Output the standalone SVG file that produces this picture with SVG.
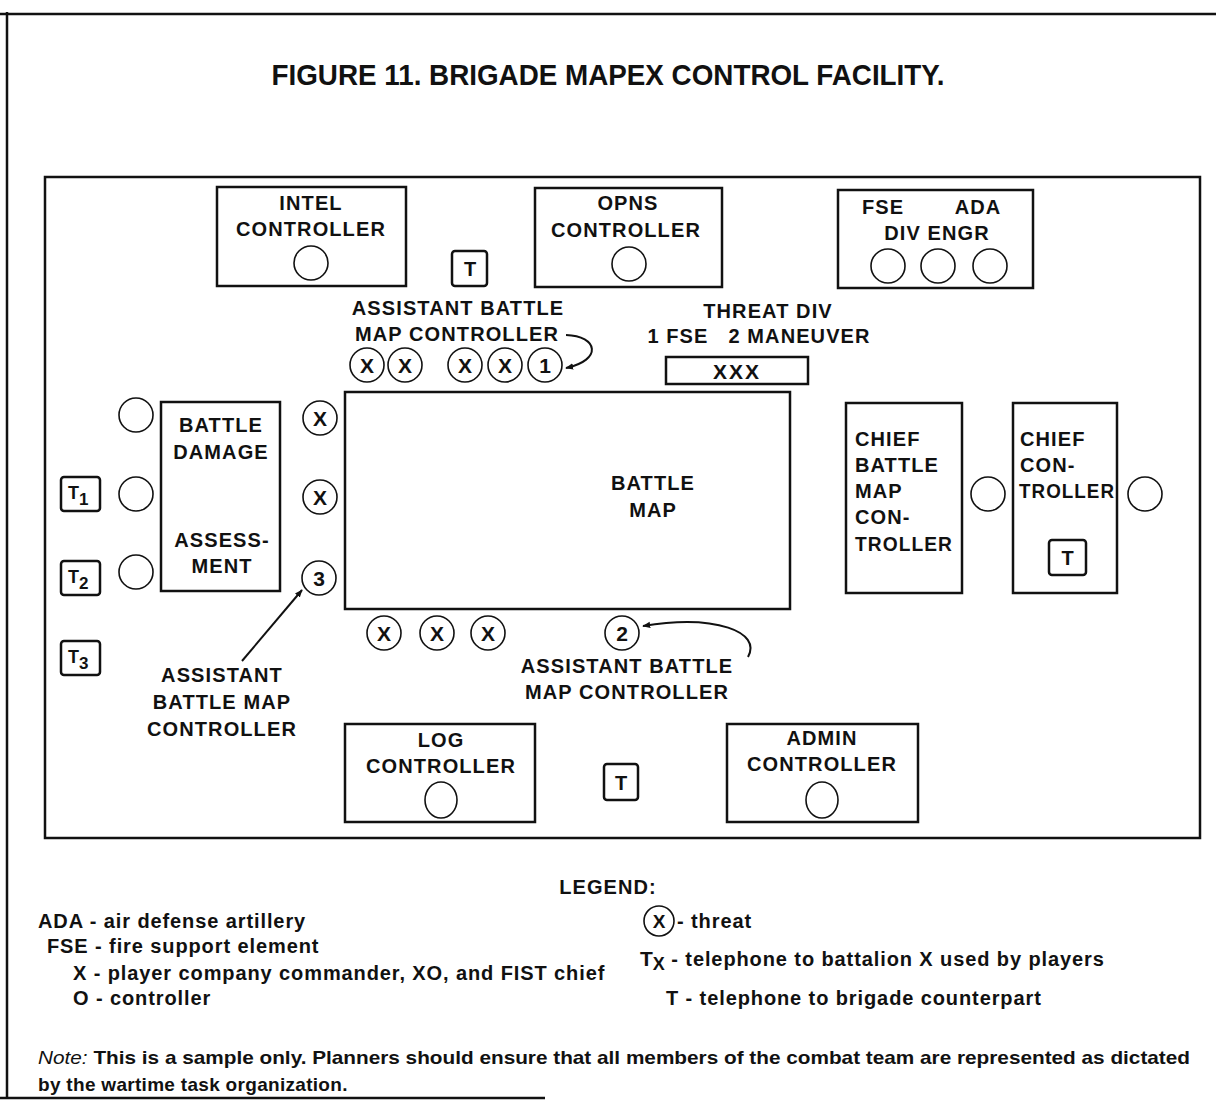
<svg xmlns="http://www.w3.org/2000/svg" width="1216" height="1102" viewBox="0 0 1216 1102">
<style>
.b{fill:none;stroke:#111;stroke-width:2.5}
.bx{fill:#fff;stroke:#111;stroke-width:2.5}
.c{fill:#fff;stroke:#111;stroke-width:1.6}
.t{font-family:"Liberation Sans",Arial,sans-serif;font-weight:bold;font-size:20px;fill:#111;letter-spacing:1.1px}
.m{text-anchor:middle}
.ct{font-family:"Liberation Sans",Arial,sans-serif;font-weight:bold;font-size:21px;fill:#111;text-anchor:middle}
.lg{font-family:"Liberation Sans",Arial,sans-serif;font-weight:bold;font-size:20px;fill:#111;letter-spacing:0.9px}
.ln{fill:none;stroke:#111;stroke-width:2}
</style>
<defs>
<marker id="ah" viewBox="0 0 10 10" refX="9" refY="5" markerWidth="8" markerHeight="8" orient="auto" markerUnits="userSpaceOnUse">
<path d="M0,1 L10,5 L0,9 z" fill="#111"/>
</marker>
<g id="cx"><circle r="17" class="c"/><text y="7.5" class="ct">X</text></g>
</defs>
<rect width="1216" height="1102" fill="#fff"/>
<g id="frame">
<line x1="0" y1="14" x2="1216" y2="14" class="b"/>
<line x1="7" y1="12" x2="7" y2="1098" class="b"/>
<line x1="0" y1="1098" x2="545" y2="1098" class="b"/>
<rect x="45" y="177" width="1155" height="661" class="b" stroke-width="3"/>
</g>
<text x="608" y="85" class="t m" style="font-size:30px;letter-spacing:0" textLength="673" lengthAdjust="spacingAndGlyphs">FIGURE 11. BRIGADE MAPEX CONTROL FACILITY.</text>

<g id="intel">
<rect x="217" y="187" width="189" height="99" class="bx"/>
<text x="311" y="210" class="t m">INTEL</text>
<text x="311" y="236" class="t m">CONTROLLER</text>
<circle cx="311" cy="263" r="17" class="c"/>
</g>
<g id="t-top">
<rect x="452" y="251" width="35" height="35" rx="3" class="bx"/>
<text x="470" y="276" class="t m" style="letter-spacing:0">T</text>
</g>
<g id="opns">
<rect x="535" y="188" width="187" height="99" class="bx"/>
<text x="628" y="210" class="t m">OPNS</text>
<text x="626" y="237" class="t m">CONTROLLER</text>
<circle cx="629" cy="264" r="17" class="c"/>
</g>
<g id="fse-ada">
<rect x="838" y="190" width="195" height="98" class="bx"/>
<text x="883" y="214" class="t m">FSE</text>
<text x="978" y="214" class="t m">ADA</text>
<text x="937" y="240" class="t m">DIV ENGR</text>
<circle cx="888" cy="266" r="17" class="c"/>
<circle cx="938" cy="266" r="17" class="c"/>
<circle cx="990" cy="266" r="17" class="c"/>
</g>

<g id="asst1">
<text x="458" y="315" class="t m">ASSISTANT BATTLE</text>
<text x="457" y="341" class="t m">MAP CONTROLLER</text>
<use href="#cx" x="367" y="365"/>
<use href="#cx" x="405" y="365"/>
<use href="#cx" x="465" y="365"/>
<use href="#cx" x="505" y="365"/>
<circle cx="545" cy="365" r="17" class="c"/>
<text x="545" y="372.5" class="ct">1</text>
</g>

<g id="threat">
<text x="768" y="318" class="t m">THREAT DIV</text>
<text x="759" y="343" class="t m" xml:space="preserve">1 FSE   2 MANEUVER</text>
<rect x="666" y="357" width="142" height="27" class="bx"/>
<text x="737" y="379" class="t m" style="font-size:21px;letter-spacing:2px">XXX</text>
</g>

<g id="battle-map">
<rect x="345" y="392" width="445" height="217" class="bx"/>
<text x="653" y="490" class="t m">BATTLE</text>
<text x="653" y="517" class="t m">MAP</text>
</g>

<g id="left-players">
<use href="#cx" x="320" y="418"/>
<use href="#cx" x="320" y="497"/>
<circle cx="319" cy="578" r="17" class="c"/>
<text x="319" y="585.5" class="ct">3</text>
</g>

<g id="bda">
<rect x="161" y="402" width="119" height="189" class="bx"/>
<text x="221" y="432" class="t m">BATTLE</text>
<text x="221" y="459" class="t m">DAMAGE</text>
<text x="222" y="547" class="t m">ASSESS-</text>
<text x="222" y="573" class="t m">MENT</text>
<circle cx="136" cy="415" r="17" class="c"/>
<circle cx="136" cy="494" r="17" class="c"/>
<circle cx="136" cy="572" r="17" class="c"/>
</g>

<g id="phones">
<rect x="61" y="477" width="39" height="34" rx="3" class="bx"/>
<text x="68" y="499" class="lg" style="font-size:18px;letter-spacing:0">T<tspan style="font-size:17px" dy="6">1</tspan></text>
<rect x="61" y="561" width="39" height="34" rx="3" class="bx"/>
<text x="68" y="583" class="lg" style="font-size:18px;letter-spacing:0">T<tspan style="font-size:17px" dy="6">2</tspan></text>
<rect x="61" y="641" width="39" height="34" rx="3" class="bx"/>
<text x="68" y="663" class="lg" style="font-size:18px;letter-spacing:0">T<tspan style="font-size:17px" dy="6">3</tspan></text>
</g>

<g id="asst3">
<text x="222" y="682" class="t m">ASSISTANT</text>
<text x="222" y="709" class="t m">BATTLE MAP</text>
<text x="222" y="736" class="t m">CONTROLLER</text>
</g>

<g id="bottom-players">
<use href="#cx" x="384" y="633"/>
<use href="#cx" x="437" y="633"/>
<use href="#cx" x="488" y="633"/>
<circle cx="622" cy="633" r="17" class="c"/>
<text x="622" y="640.5" class="ct">2</text>
</g>
<g id="asst2">
<text x="627" y="673" class="t m">ASSISTANT BATTLE</text>
<text x="627" y="699" class="t m">MAP CONTROLLER</text>
</g>

<g id="chief-bm">
<rect x="846" y="403" width="116" height="190" class="bx"/>
<text x="855" y="446" class="t">CHIEF</text>
<text x="855" y="472" class="t">BATTLE</text>
<text x="855" y="498" class="t">MAP</text>
<text x="855" y="524" class="t">CON-</text>
<text x="855" y="551" class="t" textLength="98" lengthAdjust="spacingAndGlyphs">TROLLER</text>
<circle cx="988" cy="494" r="17" class="c"/>
</g>
<g id="chief-ctl">
<rect x="1013" y="403" width="104" height="190" class="bx"/>
<text x="1020" y="446" class="t">CHIEF</text>
<text x="1020" y="472" class="t">CON-</text>
<text x="1019" y="498" class="t" textLength="96" lengthAdjust="spacingAndGlyphs">TROLLER</text>
<rect x="1049" y="540" width="37" height="35" rx="3" class="bx"/>
<text x="1067.5" y="565" class="t m" style="letter-spacing:0">T</text>
<circle cx="1145" cy="494" r="17" class="c"/>
</g>

<g id="log">
<rect x="345" y="724" width="190" height="98" class="bx"/>
<text x="441" y="747" class="t m">LOG</text>
<text x="441" y="773" class="t m">CONTROLLER</text>
<ellipse cx="441" cy="800" rx="16" ry="18" class="c"/>
</g>
<g id="t-bottom">
<rect x="604" y="764" width="34" height="36" rx="3" class="bx"/>
<text x="621" y="790" class="t m" style="letter-spacing:0">T</text>
</g>
<g id="admin">
<rect x="727" y="724" width="191" height="98" class="bx"/>
<text x="822" y="745" class="t m">ADMIN</text>
<text x="822" y="771" class="t m">CONTROLLER</text>
<ellipse cx="822" cy="800" rx="16" ry="18" class="c"/>
</g>

<g id="connectors">
<path d="M566,335 C598,336 603,360 566,368" class="ln" marker-end="url(#ah)"/>
<path d="M748,657 C762,632 716,614 643,626" class="ln" marker-end="url(#ah)"/>
<line x1="242" y1="661" x2="302" y2="590" class="ln" marker-end="url(#ah)"/>
</g>

<g id="legend">
<text x="608" y="894" class="t m">LEGEND:</text>
<text x="38" y="928" class="lg">ADA - air defense artillery</text>
<text x="47" y="953" class="lg">FSE - fire support element</text>
<text x="73" y="980" class="lg">X - player company commander, XO, and FIST chief</text>
<text x="73" y="1005" class="lg">O - controller</text>
<circle cx="659" cy="921" r="15" class="c"/>
<text x="659" y="928" class="ct" style="font-size:19px">X</text>
<text x="677" y="928" class="lg">- threat</text>
<text x="640" y="966" class="lg" style="font-size:21px;letter-spacing:0">T<tspan style="font-size:18px" dy="4">X</tspan><tspan dy="-4" style="font-size:20px;letter-spacing:0.9px"> - telephone to battalion X used by players</tspan></text>
<text x="666" y="1005" class="lg">T - telephone to brigade counterpart</text>
<text x="38" y="1064" class="lg" style="font-size:19px;letter-spacing:0" textLength="1152" lengthAdjust="spacingAndGlyphs"><tspan style="font-style:italic;font-weight:normal">Note:</tspan> This is a sample only. Planners should ensure that all members of the combat team are represented as dictated</text>
<text x="38" y="1091" class="lg" style="font-size:19px;letter-spacing:0.3px">by the wartime task organization.</text>
</g>
</svg>
